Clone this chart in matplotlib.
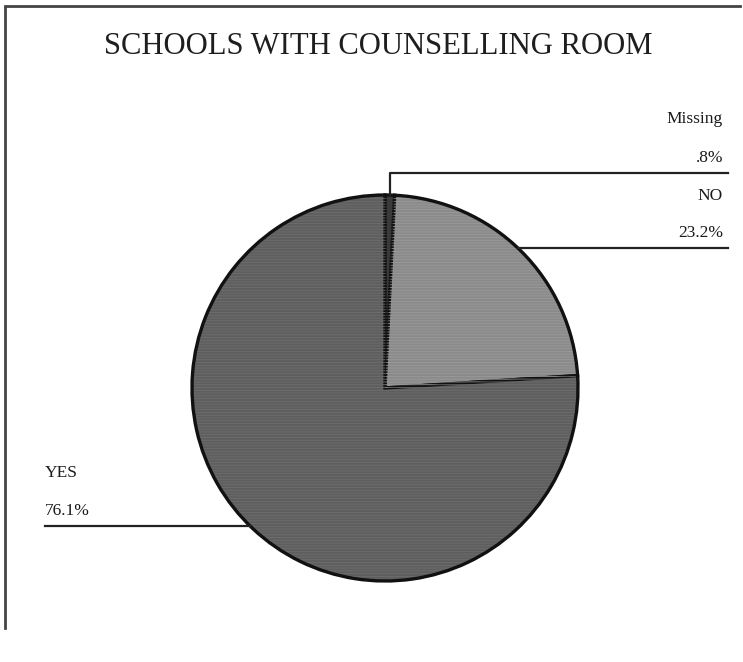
import matplotlib
matplotlib.use("Agg")
import matplotlib.pyplot as plt
import numpy as np

title = "SCHOOLS WITH COUNSELLING ROOM"
categories = ["Missing", "NO", "YES"]
values = [0.8, 23.2, 76.1]
pct_labels = [".8%", "23.2%", "76.1%"]
colors = ["#3a3a3a", "#8a8a8a", "#5e5e5e"]
texture = ["#3a3a3a", "#9a9a9a", "#6e6e6e"]

W, H = 743, 662
fig = plt.figure(figsize=(W / 100, H / 100), dpi=100)
fig.patch.set_facecolor("white")
ax = fig.add_axes([0, 0, 1, 1])

def Y(y):
    return H - y

cx, cy, r = 385, Y(388), 193
wedges, _ = ax.pie(values, colors=colors, startangle=90, counterclock=False,
                   center=(cx, cy), radius=r, frame=True,
                   wedgeprops=dict(edgecolor="#111111", linewidth=2.4))
# horizontal scan texture
plt.rcParams["hatch.linewidth"] = 0.6
wt, _ = ax.pie(values, colors=["none"] * 3, startangle=90, counterclock=False,
               center=(cx, cy), radius=r - 2, frame=True,
               wedgeprops=dict(linewidth=0))
for w, c in zip(wt, texture):
    w.set_hatch("------")
    w.set_edgecolor(c)
    w.set_linewidth(0)

ax.set_xlim(0, W)
ax.set_ylim(0, H)
ax.set_aspect("equal")
ax.axis("off")

# page frame (scan)
ax.plot([5, 5], [Y(8), Y(628)], color="#444444", lw=2)
ax.plot([5, 740], [Y(6), Y(6)], color="#444444", lw=2)

ax.text(378, Y(46), title, ha="center", va="center", fontsize=22.1,
        family="Liberation Serif", color="#1e1e1e")

lc = "#222222"
fs = 12.5
tc = "#1a1a1a"
# Missing label
w = wedges[0]
mid = np.deg2rad((w.theta1 + w.theta2) / 2)
px, py = cx + r * np.cos(mid), cy + r * np.sin(mid)
ax.plot([px, px, 728], [py, Y(173), Y(173)], color=lc, lw=1.6)
ax.text(723, Y(119), categories[0], ha="right", va="center", fontsize=fs,
        family="Liberation Serif", color=tc)
ax.text(723, Y(158), pct_labels[0], ha="right", va="center", fontsize=fs,
        family="Liberation Serif", color=tc)

# NO label
ly = Y(248)
px = cx + np.sqrt(r**2 - (ly - cy)**2)
ax.plot([px, 728], [ly, ly], color=lc, lw=1.6)
ax.text(723, Y(196), categories[1], ha="right", va="center", fontsize=fs,
        family="Liberation Serif", color=tc)
ax.text(723, Y(233), pct_labels[1], ha="right", va="center", fontsize=fs,
        family="Liberation Serif", color=tc)

# YES label
ly = Y(526)
px = cx - np.sqrt(r**2 - (ly - cy)**2)
ax.plot([45, px], [ly, ly], color=lc, lw=1.6)
ax.text(45, Y(473), categories[2], ha="left", va="center", fontsize=fs,
        family="Liberation Serif", color=tc)
ax.text(45, Y(511), pct_labels[2], ha="left", va="center", fontsize=fs,
        family="Liberation Serif", color=tc)

fig.savefig("out.png", dpi=100)
